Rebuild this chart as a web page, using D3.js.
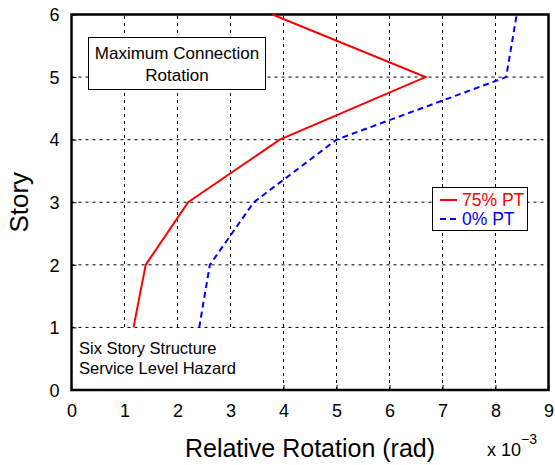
<!DOCTYPE html>
<html>
<head>
<meta charset="utf-8">
<script src="https://cdn.jsdelivr.net/npm/d3@7"></script>
<style>
  body { margin: 0; background: #fff; }
  svg text { font-family: "Liberation Sans", Arial, sans-serif; }
</style>
</head>
<body>
<div id="chart"></div>
<script>
// story levels and max connection rotation (x 10^-3 rad)
var stories = [1, 2, 3, 4, 5, 6];
var rot75 = [1.17, 1.40, 2.20, 3.93, 6.68, 3.79];
var rot0  = [2.41, 2.61, 3.44, 5.00, 8.20, 8.40];
var xTicks = [0, 1, 2, 3, 4, 5, 6, 7, 8, 9];
var yTicks = [0, 1, 2, 3, 4, 5, 6];

var width = 555, height = 465;
var margin = {left: 71.5, right: 6.5, top: 14.5, bottom: 75};

var svg = d3.select("#chart").append("svg")
    .attr("width", width).attr("height", height);

var x = d3.scaleLinear().domain([0, 9]).range([margin.left, width - margin.right]);
var y = d3.scaleLinear().domain([0, 6]).range([height - margin.bottom, margin.top]);

// grid
svg.append("g").selectAll("line").data(xTicks.slice(1, -1)).join("line")
    .attr("x1", d => x(d)).attr("x2", d => x(d))
    .attr("y1", y(0)).attr("y2", y(6))
    .attr("stroke", "#000").attr("stroke-width", 1).attr("stroke-dasharray", "3,4");
svg.append("g").selectAll("line").data(yTicks.slice(1, -1)).join("line")
    .attr("x1", x(0)).attr("x2", x(9))
    .attr("y1", d => y(d)).attr("y2", d => y(d))
    .attr("stroke", "#000").attr("stroke-width", 1).attr("stroke-dasharray", "3,4");

// axes
var xAxis = svg.append("g").attr("transform", "translate(0," + y(0) + ")")
    .call(d3.axisBottom(x).tickValues(xTicks).tickFormat(d3.format("d")).tickSize(-5).tickPadding(14));
var yAxis = svg.append("g").attr("transform", "translate(" + x(0) + ",0)")
    .call(d3.axisLeft(y).tickValues(yTicks).tickFormat(d3.format("d")).tickSize(-5).tickPadding(12));
[xAxis, yAxis].forEach(function(a) {
    a.select(".domain").remove();
    a.selectAll("text").attr("font-size", 18).attr("font-family", "Liberation Sans, Arial, sans-serif").attr("fill", "#000");
    a.selectAll(".tick line").attr("stroke", "#000");
});
yAxis.selectAll("text").attr("dy", "0.35em");

// note background (hides the grid behind the text)
svg.append("rect").attr("x", x(0) + 1).attr("y", 329).attr("width", 176).attr("height", y(0) - 330)
    .attr("fill", "#fff");

// frame
svg.append("rect")
    .attr("x", x(0)).attr("y", y(6))
    .attr("width", x(9) - x(0)).attr("height", y(0) - y(6))
    .attr("fill", "none").attr("stroke", "#000").attr("stroke-width", 2.5);

// lines
var line = function(vals) {
    return d3.line().x(function(d, i) { return x(vals[i]); }).y(function(d) { return y(d); })(stories);
};
svg.append("path").attr("d", line(rot75))
    .attr("fill", "none").attr("stroke", "#ff0000").attr("stroke-width", 2);
svg.append("path").attr("d", line(rot0))
    .attr("fill", "none").attr("stroke", "#0000ff").attr("stroke-width", 2)
    .attr("stroke-dasharray", "6,4");

// title box
svg.append("rect").attr("x", 88.5).attr("y", 37.5).attr("width", 177).attr("height", 52)
    .attr("fill", "#fff").attr("stroke", "#000").attr("stroke-width", 1);
svg.append("text").attr("x", 177).attr("y", 59).attr("text-anchor", "middle")
    .attr("font-size", 17).text("Maximum Connection");
svg.append("text").attr("x", 177).attr("y", 81).attr("text-anchor", "middle")
    .attr("font-size", 17).text("Rotation");

// note
svg.append("text").attr("x", 79).attr("y", 354).attr("font-size", 16.5).text("Six Story Structure");
svg.append("text").attr("x", 79).attr("y", 374).attr("font-size", 16.5).text("Service Level Hazard");

// legend
var lg = svg.append("g");
lg.append("rect").attr("x", 432.5).attr("y", 187.5).attr("width", 95).attr("height", 43)
    .attr("fill", "#fff").attr("stroke", "#000").attr("stroke-width", 1);
lg.append("line").attr("x1", 440).attr("x2", 457).attr("y1", 200).attr("y2", 200)
    .attr("stroke", "#ff0000").attr("stroke-width", 2);
lg.append("text").attr("x", 462).attr("y", 206).attr("font-size", 17.5).attr("fill", "#ff0000").text("75% PT");
lg.append("line").attr("x1", 440).attr("x2", 457).attr("y1", 219).attr("y2", 219)
    .attr("stroke", "#0000ff").attr("stroke-width", 2).attr("stroke-dasharray", "6,4");
lg.append("text").attr("x", 462).attr("y", 225).attr("font-size", 17.5).attr("fill", "#0000ff").text("0% PT");

// axis labels
svg.append("text").attr("x", 310).attr("y", 457).attr("text-anchor", "middle")
    .attr("font-size", 25).text("Relative Rotation (rad)");
svg.append("text").attr("transform", "translate(28," + ((y(0) + y(6)) / 2) + ") rotate(-90)")
    .attr("text-anchor", "middle").attr("font-size", 26).text("Story");
var ex = svg.append("text").attr("x", 487).attr("y", 456).attr("font-size", 18);
ex.append("tspan").text("x 10");
ex.append("tspan").attr("dy", -12).attr("font-size", 14).text("\u22123");
</script>
</body>
</html>
